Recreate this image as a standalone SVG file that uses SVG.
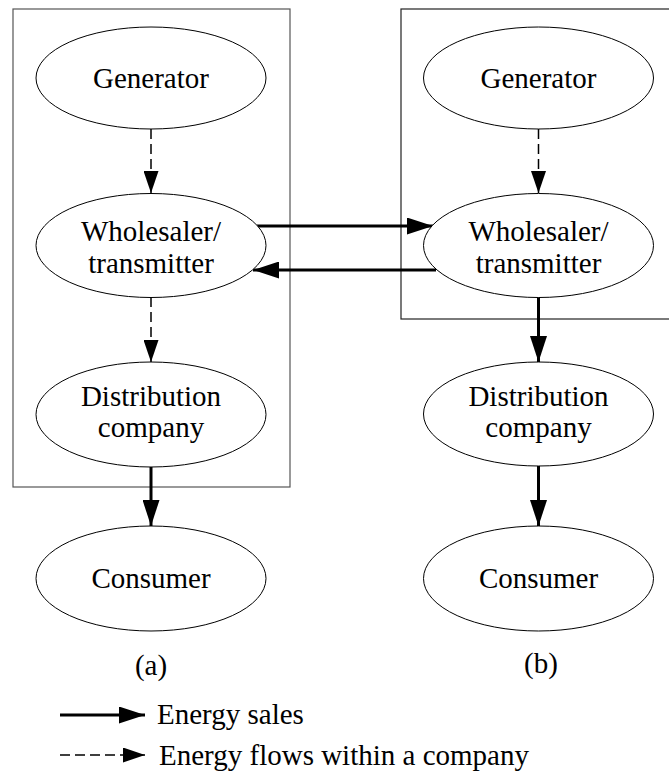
<svg xmlns="http://www.w3.org/2000/svg" width="669" height="774" viewBox="0 0 669 774">
<defs>
<style>
.node ellipse{fill:#fff;stroke:#000;stroke-width:1}
text{font-family:"Liberation Serif","Times New Roman",serif;font-size:29px;fill:#000;text-anchor:middle}
.sale{stroke:#000;stroke-width:3;fill:none;marker-end:url(#ah)}
.flow{stroke:#000;stroke-width:1.5;fill:none;stroke-dasharray:10 5;marker-end:url(#ahd)}
.box{fill:none;stroke-width:1.2}
</style>
<marker id="ah" markerUnits="userSpaceOnUse" viewBox="0 0 26 17" refX="26" refY="8.5" markerWidth="26" markerHeight="17" orient="auto">
<path d="M0,0 L26,8.5 L0,17 z" fill="#000"/>
</marker>
<marker id="ahd" markerUnits="userSpaceOnUse" viewBox="0 0 22 15" refX="22" refY="7.5" markerWidth="22" markerHeight="15" orient="auto">
<path d="M0,0 L22,7.5 L0,15 z" fill="#000"/>
</marker>
</defs>
<rect id="companyA" class="box" x="13" y="9" width="277" height="478" stroke="#555"/>
<rect id="companyB" class="box" x="401" y="9" width="275" height="310" stroke="#222"/>
<g id="connectors">
<path class="flow" d="M151,129 V193"/>
<path class="flow" d="M151,297 V362"/>
<path class="sale" d="M151,467 V526"/>
<path class="flow" d="M538.5,129 V193"/>
<path class="sale" d="M538.5,297 V362"/>
<path class="sale" d="M538.5,466 V526"/>
<path class="sale" d="M257,226 H433"/>
<path class="sale" d="M436,270 H253"/>
</g>
<g id="genA" class="node"><ellipse cx="151" cy="78" rx="115" ry="51"/><text x="151" y="88">Generator</text></g>
<g id="wholeA" class="node"><ellipse cx="151" cy="245.5" rx="115" ry="52"/><text x="151" y="241">Wholesaler/</text><text x="151" y="273">transmitter</text></g>
<g id="distA" class="node"><ellipse cx="151" cy="414.5" rx="115" ry="52.5"/><text x="151" y="406">Distribution</text><text x="151" y="437">company</text></g>
<g id="consA" class="node"><ellipse cx="151" cy="578.5" rx="115" ry="52.5"/><text x="151" y="588">Consumer</text></g>
<g id="genB" class="node"><ellipse cx="538.5" cy="78" rx="115" ry="51"/><text x="538.5" y="88">Generator</text></g>
<g id="wholeB" class="node"><ellipse cx="538.5" cy="245.5" rx="115" ry="52"/><text x="538.5" y="241">Wholesaler/</text><text x="538.5" y="273">transmitter</text></g>
<g id="distB" class="node"><ellipse cx="538.5" cy="414" rx="115" ry="52"/><text x="538.5" y="406">Distribution</text><text x="538.5" y="437">company</text></g>
<g id="consB" class="node"><ellipse cx="538.5" cy="578.5" rx="115" ry="52.5"/><text x="538.5" y="588">Consumer</text></g>
<text x="151" y="675">(a)</text>
<text x="541" y="673">(b)</text>
<g id="legend">
<path class="sale" d="M60,715 H145"/>
<text x="157" y="724" style="text-anchor:start">Energy sales</text>
<path class="flow" d="M60,755 H145"/>
<text x="159" y="765" style="text-anchor:start">Energy flows within a company</text>
</g>
</svg>
